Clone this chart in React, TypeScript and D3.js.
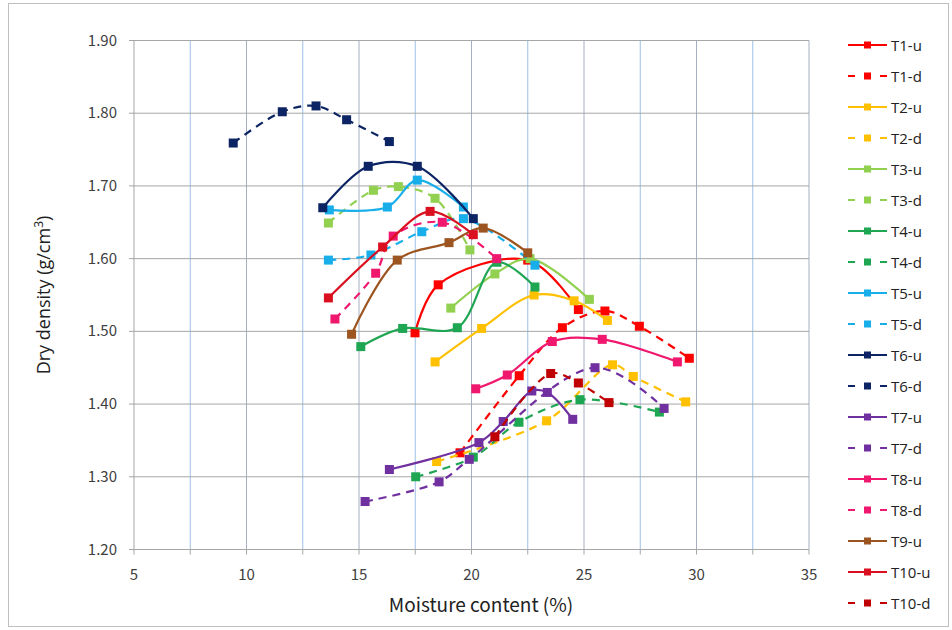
import React from "react";
import * as d3 from "d3";

const xTicks = [5, 10, 15, 20, 25, 30, 35];
const yTicks = [1.2, 1.3, 1.4, 1.5, 1.6, 1.7, 1.8, 1.9];

const T1u = [[17.49, 1.498], [18.52, 1.564], [22.5, 1.598], [24.75, 1.53]];
const T1d = [[19.49, 1.333], [22.12, 1.439], [24.04, 1.505], [25.93, 1.528], [27.46, 1.507], [29.68, 1.463]];
const T2u = [[18.38, 1.458], [20.45, 1.504], [22.78, 1.55], [24.56, 1.542], [26.04, 1.515]];
const T2d = [[18.45, 1.321], [23.34, 1.377], [26.27, 1.454], [27.19, 1.438], [29.52, 1.403]];
const T3u = [[19.08, 1.532], [21.04, 1.579], [22.6, 1.6], [25.24, 1.544]];
const T3d = [[13.64, 1.649], [15.64, 1.694], [16.75, 1.699], [18.38, 1.683], [19.93, 1.612]];
const T4u = [[15.08, 1.479], [16.94, 1.504], [19.37, 1.505], [21.13, 1.595], [22.82, 1.561]];
const T4d = [[17.52, 1.3], [20.08, 1.327], [22.11, 1.375], [24.82, 1.406], [28.35, 1.389]];
const T5u = [[13.68, 1.667], [16.26, 1.671], [17.59, 1.708], [19.64, 1.671]];
const T5d = [[13.64, 1.598], [15.53, 1.605], [17.79, 1.637], [19.64, 1.655], [22.82, 1.591]];
const T6u = [[13.39, 1.67], [15.41, 1.727], [17.59, 1.727], [20.08, 1.655]];
const T6d = [[9.41, 1.759], [11.59, 1.802], [13.09, 1.81], [14.45, 1.791], [16.35, 1.761]];
const T7u = [[16.35, 1.31], [20.33, 1.347], [21.41, 1.376], [22.68, 1.418], [23.37, 1.416], [24.5, 1.379]];
const T7d = [[15.27, 1.266], [18.56, 1.293], [19.9, 1.324], [25.49, 1.45], [28.56, 1.394]];
const T8u = [[20.19, 1.421], [21.59, 1.44], [23.59, 1.486], [25.81, 1.489], [29.15, 1.458]];
const T8d = [[13.93, 1.517], [15.74, 1.58], [16.52, 1.631], [18.7, 1.65], [21.12, 1.6]];
const T9u = [[14.67, 1.496], [16.7, 1.598], [19.0, 1.622], [20.52, 1.642], [22.5, 1.608]];
const T10u = [[13.64, 1.546], [16.05, 1.616], [18.16, 1.665], [20.08, 1.633]];
const T10d = [[21.04, 1.355], [23.52, 1.442], [24.75, 1.429], [26.11, 1.402]];

const seriesNames = ["T1-u", "T1-d", "T2-u", "T2-d", "T3-u", "T3-d", "T4-u", "T4-d", "T5-u", "T5-d", "T6-u", "T6-d", "T7-u", "T7-d", "T8-u", "T8-d", "T9-u", "T10-u", "T10-d"];
const seriesData = [T1u, T1d, T2u, T2d, T3u, T3d, T4u, T4d, T5u, T5d, T6u, T6d, T7u, T7d, T8u, T8d, T9u, T10u, T10d];
const seriesColors = ["#FF0000", "#FF0000", "#FFC000", "#FFC000", "#92D050", "#92D050", "#1FA653", "#1FA653", "#17AEEA", "#17AEEA", "#0C2463", "#0C2463", "#7030A0", "#7030A0", "#F0186E", "#F0186E", "#9C5520", "#DA1020", "#C00000"];

export default function App() {
  const W = 952, H = 630;
  const L = 134, R = 809, T = 40.5, B = 549.5;
  const x = d3.scaleLinear().domain([5, 35]).range([L, R]);
  const y = d3.scaleLinear().domain([1.2, 1.9]).range([B, T]);
  const line = d3.line<number[]>().x(d => x(d[0])).y(d => y(d[1])).curve(d3.curveCatmullRom.alpha(0.5));
  const minor = d3.range(7.5, 35, 5);
  const tickFont = "'Noto Sans CJK JP', 'Noto Sans', sans-serif";
  const ms = 9;
  return (
    <svg width={W} height={H} style={{ position: "absolute", left: 0, top: 0, background: "#fff" }}>
      <rect x={8.5} y={3.5} width={940} height={623} fill="#fff" stroke="#BFBFBF" />
      {minor.map(v => (
        <line key={"mv" + v} x1={x(v)} x2={x(v)} y1={T} y2={B} stroke="#9DC0E6" strokeWidth={1} />
      ))}
      {xTicks.slice(1).map(v => (
        <line key={"gv" + v} x1={x(v)} x2={x(v)} y1={T} y2={B} stroke="#A6AEC0" strokeWidth={1} />
      ))}
      {yTicks.slice(1).map(v => (
        <line key={"gh" + v} x1={L} x2={R} y1={y(v)} y2={y(v)} stroke="#A6A6A6" strokeWidth={1} />
      ))}
      <line x1={L} x2={L} y1={T} y2={B} stroke="#A6A6A6" />
      <line x1={L} x2={R} y1={B} y2={B} stroke="#A6A6A6" />
      {d3.range(5, 35.1, 2.5).map(v => (
        <line key={"xt" + v} x1={x(v)} x2={x(v)} y1={B} y2={B + 5} stroke="#A6A6A6" />
      ))}
      {yTicks.map(v => (
        <line key={"yt" + v} x1={L - 5} x2={L} y1={y(v)} y2={y(v)} stroke="#A6A6A6" />
      ))}
      {xTicks.map(v => (
        <text key={"xl" + v} x={x(v)} y={B + 30} textAnchor="middle" fontFamily={tickFont} fontSize={15} fill="#404040">{v}</text>
      ))}
      {yTicks.map(v => (
        <text key={"yl" + v} x={L - 17} y={y(v) + 5} textAnchor="end" fontFamily={tickFont} fontSize={15} fill="#404040">{v.toFixed(2)}</text>
      ))}
      <text x={481} y={612} textAnchor="middle" fontFamily={tickFont} fontSize={19} fill="#222">Moisture content (%)</text>
      <text transform={`translate(50,${(T + B) / 2}) rotate(-90)`} textAnchor="middle" fontFamily="'Open Sans', 'Noto Sans', sans-serif" fontSize={18} fill="#222">
        Dry density (g/cm<tspan dy={-7} fontSize={12}>3</tspan><tspan dy={7}>)</tspan>
      </text>
      {seriesData.map((data, i) => {
        const dashed = seriesNames[i].endsWith("-d");
        const c = seriesColors[i];
        return (
          <g key={seriesNames[i]}>
            <path d={line(data as number[][]) || ""} fill="none" stroke={c} strokeWidth={2.2} strokeDasharray={dashed ? "8 6" : undefined} />
            {data.map((p, j) => (
              <rect key={j} x={x(p[0]) - ms / 2} y={y(p[1]) - ms / 2} width={ms} height={ms} fill={c} />
            ))}
          </g>
        );
      })}
      {seriesNames.map((n, i) => {
        const ly = 45 + 31 * i;
        const dashed = n.endsWith("-d");
        const c = seriesColors[i];
        return (
          <g key={"lg" + n}>
            {dashed ? (
              <>
                <line x1={848} x2={855} y1={ly} y2={ly} stroke={c} strokeWidth={2} />
                <line x1={880} x2={887} y1={ly} y2={ly} stroke={c} strokeWidth={2} />
              </>
            ) : (
              <line x1={848} x2={887} y1={ly} y2={ly} stroke={c} strokeWidth={2} />
            )}
            <rect x={864} y={ly - 3.5} width={7} height={7} fill={c} />
            <text x={891} y={ly + 5.5} fontFamily="'Open Sans', 'Noto Sans', sans-serif" fontSize={15} fill="#222">{n}</text>
          </g>
        );
      })}
    </svg>
  );
}
